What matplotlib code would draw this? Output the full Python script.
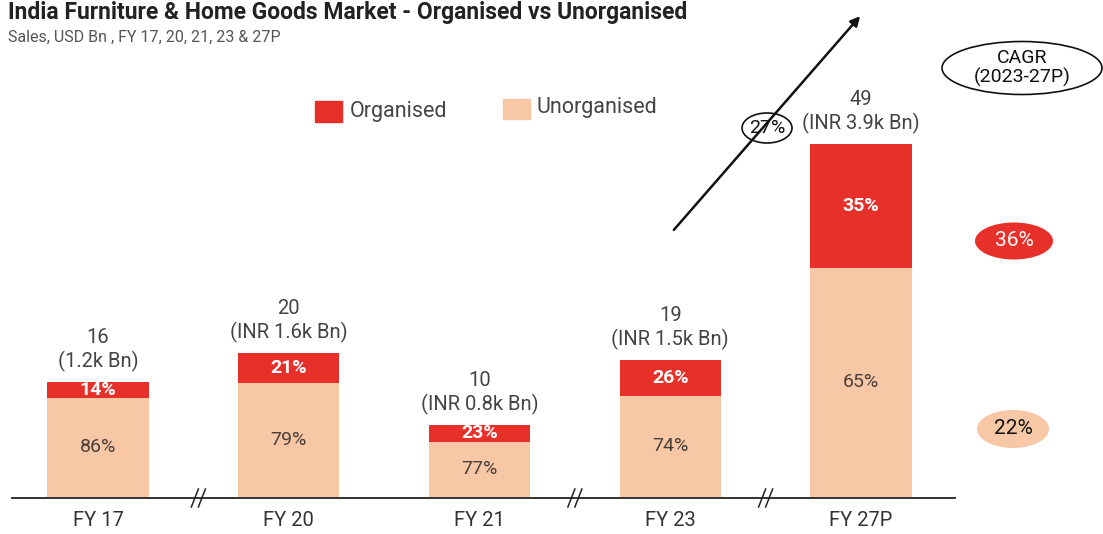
import numpy as np
import matplotlib.pyplot as plt
from matplotlib.patches import Ellipse, Rectangle

plt.rcParams['font.family'] = ['Roboto', 'DejaVu Sans']

# Market size, USD Bn, with organised share (%)
years = ["FY 17", "FY 20", "FY 21", "FY 23", "FY 27P"]
total = np.array([16, 20, 10, 19, 49])
org_pct = np.array([14, 21, 23, 26, 35])
unorg_pct = 100 - org_pct
inr_labels = ["(1.2k Bn)", "(INR 1.6k Bn)", "(INR 0.8k Bn)", "(INR 1.5k Bn)", "(INR 3.9k Bn)"]
breaks_after = [0, 2, 3]          # axis breaks between these and the next year
cagr_total = "27%"
cagr_org = "36%"
cagr_unorg = "22%"

RED = "#E8302A"
PEACH = "#F8C7A6"
W, H = 1103, 534

org = total * org_pct / 100
unorg = total - org

fig = plt.figure(figsize=(W / 100, H / 100), dpi=100)

# bar axes: baseline at y=497px, ~7.2 px per USD Bn, bars spaced ~190px from x=98px
base_px, scale, x0, step = 497, 7.2, 98, 190.75
ax = fig.add_axes([0, (H - base_px) / H, 1, base_px / H])
ax.set_xlim(-x0 / step, (W - x0) / step)
ax.set_ylim(0, base_px / scale)
ax.axis("off")

x = np.arange(len(years))
bw = 0.53
ax.bar(x, unorg, bw, color=PEACH)
ax.bar(x, org, bw, bottom=unorg, color=RED)

for i in x:
    ax.text(i, unorg[i] / 2, f"{unorg_pct[i]}%", ha="center", va="center",
            fontsize=14, color="#4a3f3a")
    ax.text(i, unorg[i] + org[i] / 2, f"{org_pct[i]}%", ha="center", va="center",
            fontsize=14, color="white", fontweight="bold")
    ax.annotate(inr_labels[i], (i, total[i]), xytext=(0, 15), textcoords="offset points",
                ha="center", va="center", fontsize=14.5, color="#444444")
    ax.annotate(str(total[i]), (i, total[i]), xytext=(0, 32), textcoords="offset points",
                ha="center", va="center", fontsize=14.5, color="#444444")

# overlay in pixel coordinates for the decorations
deco = fig.add_axes([0, 0, 1, 1], facecolor="none")
deco.set_xlim(0, W)
deco.set_ylim(H, 0)
deco.axis("off")

# baseline with break marks
deco.plot([12, 955], [498, 498], color="#222222", lw=1.3)
for i in breaks_after:
    bx = x0 + step * (i + 0.5)
    if i == 0:
        bx += 5
    for dx in (-3.5, 3.5):
        deco.plot([bx + dx - 3.5, bx + dx + 3.5], [507, 489], color="#222222", lw=1.1)

for i, lab in enumerate(years):
    deco.text(x0 + step * i, 520, lab, ha="center", va="center", fontsize=14.5, color="#333333")

# titles
deco.text(8, 12, "India Furniture & Home Goods Market - Organised vs Unorganised",
          ha="left", va="center", fontsize=16.5, fontweight="bold", color="#222222")
deco.text(8, 37, "Sales, USD Bn , FY 17, 20, 21, 23 & 27P", ha="left", va="center",
          fontsize=11.5, color="#555555")

# legend
deco.add_patch(Rectangle((315, 101), 27, 21, color=RED))
deco.text(350, 112, "Organised", ha="left", va="center", fontsize=15.5, color="#444444")
deco.add_patch(Rectangle((503, 99), 27, 20, color=PEACH))
deco.text(537, 108, "Unorganised", ha="left", va="center", fontsize=15.5, color="#444444")

# growth arrow with CAGR bubble
deco.annotate("", xy=(862, 14), xytext=(672, 232),
              arrowprops=dict(arrowstyle="-|>", color="#111111", lw=1.8, mutation_scale=14))
deco.add_patch(Ellipse((767, 128), 50, 30, facecolor="white", edgecolor="#111111", lw=1.2))
deco.text(767, 128, cagr_total, ha="center", va="center", fontsize=14, color="#111111")

deco.add_patch(Ellipse((1022, 68), 160, 53, facecolor="white", edgecolor="#111111", lw=1.2))
deco.text(1022, 68, "CAGR\n(2023-27P)", ha="center", va="center", fontsize=14,
          color="#111111", linespacing=1.05)

deco.add_patch(Ellipse((1014, 241), 78, 37, facecolor=RED, edgecolor="none"))
deco.text(1014, 241, cagr_org, ha="center", va="center", fontsize=15, color="white")
deco.add_patch(Ellipse((1013, 429), 72, 38, facecolor=PEACH, edgecolor="none"))
deco.text(1013, 429, cagr_unorg, ha="center", va="center", fontsize=15, color="#111111")

fig.savefig("out.png", dpi=100, facecolor="white")
